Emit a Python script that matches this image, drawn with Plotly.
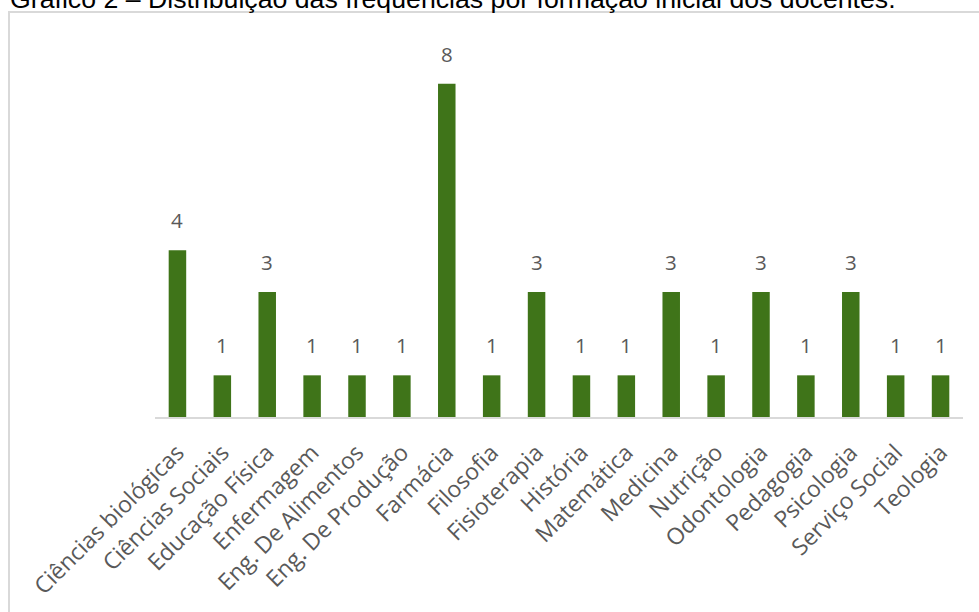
import plotly.graph_objects as go

# Formação inicial dos docentes e respectivas frequências
categorias = [
    "Ciências biológicas", "Ciências Sociais", "Educação Física", "Enfermagem",
    "Eng. De Alimentos", "Eng. De Produção", "Farmácia", "Filosofia",
    "Fisioterapia", "História", "Matemática", "Medicina", "Nutrição",
    "Odontologia", "Pedagogia", "Psicologia", "Serviço Social", "Teologia",
]
frequencias = [4, 1, 3, 1, 1, 1, 8, 1, 3, 1, 1, 3, 1, 3, 1, 3, 1, 1]

titulo = "Gráfico 2 – Distribuição das frequências por formação inicial dos docentes."

W, H = 979, 612
ML, MR, MT, MB = 155, 16, 42, 195
PW, PH = W - ML - MR, H - MT - MB


def px_x(p):
    return (p - ML) / PW


def px_y(p):
    return (H - MB - p) / PH


VERDE = "#3f7419"
CINZA = "#595959"

fig = go.Figure(
    go.Bar(
        x=categorias,
        y=frequencias,
        marker=dict(color=VERDE, line=dict(width=0)),
        hoverinfo="x+y",
    )
)

# Rótulos de valor acima de cada barra
for c, v in zip(categorias, frequencias):
    fig.add_annotation(
        x=c, y=v, text=str(v), showarrow=False, yanchor="bottom",
        yshift=14, font=dict(family="Open Sans", size=20.5, color=CINZA),
    )

# Moldura da área do gráfico
fig.add_shape(
    type="rect", xref="paper", yref="paper",
    x0=px_x(9), x1=px_x(990), y0=px_y(12), y1=px_y(640),
    line=dict(color="#d9d9d9", width=2), fillcolor="rgba(0,0,0,0)", layer="below",
)

# Título parcialmente acima da moldura
fig.add_annotation(
    xref="paper", yref="paper", x=px_x(8), y=px_y(16),
    xanchor="left", yanchor="bottom", text=titulo, showarrow=False,
    font=dict(family="Liberation Sans, Arial", size=26.7, color="#000000"),
)

fig.update_layout(
    width=W, height=H,
    margin=dict(l=ML, r=MR, t=MT, b=MB, pad=0),
    paper_bgcolor="white", plot_bgcolor="white",
    bargap=0.61, showlegend=False,
    xaxis=dict(
        type="category", tickangle=-45, showgrid=False,
        showline=True, linecolor="#d9d9d9", linewidth=2,
        ticks="", ticklabelstandoff=11,
        tickfont=dict(family="Open Sans", size=23, color=CINZA),
    ),
    yaxis=dict(
        range=[0, 9], visible=False, showgrid=False, zeroline=False,
    ),
)

fig.write_html("out.html")
